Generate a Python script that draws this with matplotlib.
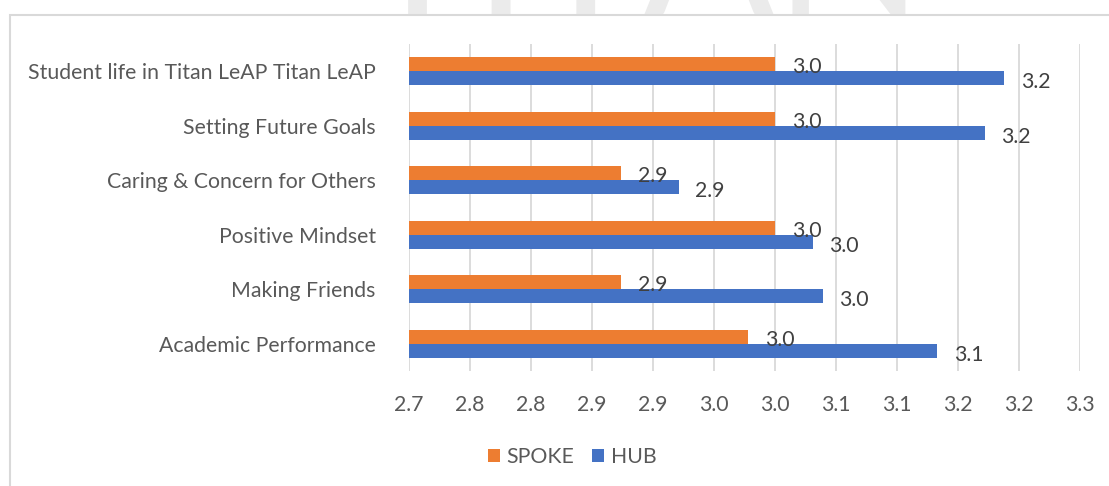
import numpy as np
import matplotlib.pyplot as plt
from matplotlib.patches import Rectangle

categories = ["Student life in Titan LeAP Titan LeAP", "Setting Future Goals",
              "Caring & Concern for Others", "Positive Mindset",
              "Making Friends", "Academic Performance"]
spoke = [3.00, 3.00, 2.874, 3.00, 2.874, 2.978]
hub = [3.188, 3.172, 2.921, 3.031, 3.039, 3.133]
xticks = np.arange(2.70, 3.26, 0.05)

orange = "#ED7D31"
blue = "#4472C4"
grey_txt = "#595959"
grid_c = "#d9d9d9"

plt.rcParams['font.family'] = ['Lato', 'DejaVu Sans']
fs = 15.3

fig = plt.figure(figsize=(11.09, 4.86), dpi=100)
W, H = 1109, 486

# watermark behind the chart area, only its foot shows above the frame
fig.text(0.578, 1 - 15 / H, "TITAN", fontsize=140, color="#ebebeb",
         ha="center", va="baseline", zorder=0)
fig.patches.append(Rectangle((10 / W, -0.05), 1.1, 1 - 15 / H + 0.05,
                             transform=fig.transFigure, facecolor="white",
                             edgecolor=grid_c, linewidth=1.5, zorder=0.5))

ax = fig.add_axes([409 / W, 1 - 371 / H, 671 / W, 327 / H])
ax.set_zorder(2)
ax.patch.set_alpha(0)

y = np.arange(len(categories))
h = 0.257
ax.barh(y - h / 2, spoke, height=h, color=orange, label="SPOKE", zorder=3)
ax.barh(y + h / 2, hub, height=h, color=blue, label="HUB", zorder=3)

for yi, v in zip(y, spoke):
    ax.annotate(f"{v:.1f}", (v, yi - h / 2), xytext=(12, -2), textcoords="offset points",
                va="center", ha="left", fontsize=fs, color="#404040")
for yi, v in zip(y, hub):
    ax.annotate(f"{v:.1f}", (v, yi + h / 2), xytext=(12, -3), textcoords="offset points",
                va="center", ha="left", fontsize=fs, color="#404040")

ax.set_xlim(2.70, 3.25)
ax.set_ylim(5.5, -0.5)
ax.set_xticks(xticks)
ax.set_xticklabels([f"{t:.1f}" for t in xticks + 1e-9])
ax.set_yticks(y)
ax.set_yticklabels(categories)
ax.tick_params(axis="x", length=0, pad=17, labelsize=fs, labelcolor=grey_txt)
ax.tick_params(axis="y", length=0, pad=24, labelsize=fs, labelcolor=grey_txt)
ax.grid(axis="x", color=grid_c, linewidth=1.3, zorder=0)
for s in ax.spines.values():
    s.set_visible(False)

fig.legend(loc="center", bbox_to_anchor=(572 / W, 1 - 457 / H), ncol=2, frameon=False,
           fontsize=fs, labelcolor=grey_txt, handlelength=0.6, handleheight=0.6,
           handletextpad=0.3, columnspacing=0.8)

fig.savefig("out.png", dpi=100)
